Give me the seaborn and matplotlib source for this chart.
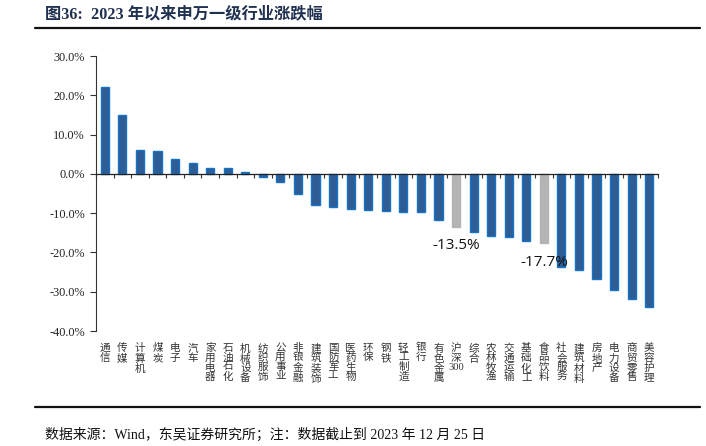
import numpy as np
import pandas as pd
import matplotlib
matplotlib.use("Agg")
import matplotlib.pyplot as plt
import seaborn as sns

# ---- data ----
categories = ["通信", "传媒", "计算机", "煤炭", "电子", "汽车", "家用电器", "石油石化",
              "机械设备", "纺织服饰", "公用事业", "非银金融", "建筑装饰", "国防军工",
              "医药生物", "环保", "钢铁", "轻工制造", "银行", "有色金属", "沪深300",
              "综合", "农林牧渔", "交通运输", "基础化工", "食品饮料", "社会服务",
              "建筑材料", "房地产", "电力设备", "商贸零售", "美容护理"]
values = [22.0, 15.1, 6.0, 5.8, 3.7, 2.8, 1.5, 1.4,
          0.5, -0.9, -2.1, -5.0, -7.8, -8.4,
          -8.9, -9.2, -9.5, -9.6, -9.7, -11.8, -13.5,
          -14.7, -15.7, -16.1, -17.1, -17.7, -23.8,
          -24.4, -26.8, -29.6, -31.8, -34.0]
highlight = ["沪深300", "食品饮料"]
y_ticks = [-40, -30, -20, -10, 0, 10, 20, 30]

title = "图36:  2023 年以来申万一级行业涨跌幅"
source = "数据来源：Wind，东吴证券研究所；注：数据截止到 2023 年 12 月 25 日"

BLUE = "#2E5C94"
BLUE_EDGE = "#1674C6"
GRAY = "#B4B4B4"

sns.set_style("white")
plt.rcParams["font.family"] = ["Liberation Serif", "Noto Sans CJK SC", "DejaVu Sans"]
plt.rcParams["axes.unicode_minus"] = False

df = pd.DataFrame({"cat": categories, "val": values})
palette = {c: (GRAY if c in highlight else BLUE) for c in categories}

fig = plt.figure(figsize=(7.06, 4.46), dpi=100)
ax = fig.add_axes([96 / 706, 1 - 331 / 446, (658 - 96) / 706, (331 - 56) / 446])

sns.barplot(data=df, x="cat", y="val", hue="cat", palette=palette, legend=False,
            width=0.46, ax=ax, saturation=1)

for patch, c in zip(ax.patches, categories):
    patch.set_edgecolor(GRAY if c in highlight else BLUE_EDGE)
    patch.set_linewidth(1.0)

ax.set_xlim(-0.5, len(categories) - 0.5)
ax.set_ylim(-40, 30)
ax.set_yticks(y_ticks)
ax.set_yticklabels([f"{v:.1f}%" for v in y_ticks], fontsize=8.8,
                   family=["Liberation Serif", "DejaVu Sans"], color="#222222")
ax.set_xlabel("")
ax.set_ylabel("")

for s in ["top", "right"]:
    ax.spines[s].set_visible(False)
ax.spines["left"].set_color("#333333")
ax.spines["left"].set_linewidth(0.8)
ax.spines["bottom"].set_position(("data", 0))
ax.spines["bottom"].set_color("#222222")
ax.spines["bottom"].set_linewidth(0.9)
ax.tick_params(axis="y", direction="out", length=4, width=0.8, color="#333333", pad=4, left=True)
ax.set_xticks(np.arange(-0.5, len(categories), 1.0))
ax.set_xticklabels([])
ax.tick_params(axis="x", direction="out", length=3, width=0.8, color="#333333", bottom=True)

sec = ax.secondary_xaxis("bottom")
vlabels = []
for c in categories:
    if c == "沪深300":
        vlabels.append("沪\n深\n300")
    else:
        vlabels.append("\n".join(c))
sec.set_xticks(range(len(categories)))
sec.set_xticklabels(vlabels, fontsize=7.6, color="#333333",
                    family=["Liberation Serif", "Noto Sans CJK SC"])
sec.tick_params(length=0, pad=9)
sec.spines["bottom"].set_visible(False)
for lbl in sec.get_xticklabels():
    lbl.set_linespacing(1.0)

for i, c in enumerate(categories):
    if c in highlight:
        ax.bar_label(ax.containers[i], labels=[f"{values[i]:.1f}%"], padding=8,
                     fontsize=11, family=["Open Sans", "DejaVu Sans"], color="#111111")

# title and footer
fig.text(45 / 706, 1 - 14 / 446, title, fontsize=11.7, fontweight="bold", color="#1F3050",
         va="center", ha="left", family=["Liberation Serif", "Noto Sans CJK SC"])
fig.add_artist(plt.Line2D([35 / 706, 700 / 706], [1 - 28 / 446, 1 - 28 / 446],
                          color="#111111", linewidth=1.6))
fig.add_artist(plt.Line2D([35 / 706, 700 / 706], [1 - 407 / 446, 1 - 407 / 446],
                          color="#111111", linewidth=1.6))
fig.text(45 / 706, 1 - 435 / 446, source, fontsize=10, color="#111111",
         va="center", ha="left", family=["Liberation Serif", "Noto Sans CJK SC"])

fig.savefig("out.png", dpi=100)
